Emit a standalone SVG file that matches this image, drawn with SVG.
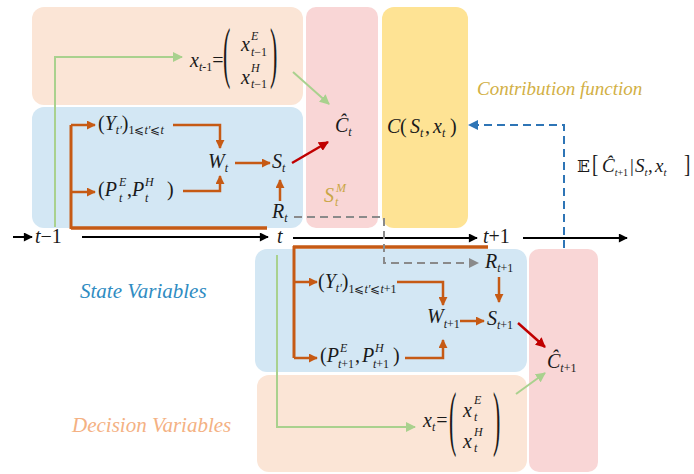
<svg xmlns="http://www.w3.org/2000/svg" width="694" height="474" viewBox="0 0 694 474">
<defs>
<marker id="ao" viewBox="0 0 10 10" refX="9" refY="5" markerWidth="9" markerHeight="9" markerUnits="userSpaceOnUse" orient="auto"><path d="M0,0 L10,5 L0,10 z" fill="#c65a14"/></marker>
<marker id="ak" viewBox="0 0 10 10" refX="9" refY="5" markerWidth="10" markerHeight="9" markerUnits="userSpaceOnUse" orient="auto"><path d="M0,0 L10,5 L0,10 z" fill="#000"/></marker>
<marker id="ag" viewBox="0 0 10 10" refX="9" refY="5" markerWidth="10" markerHeight="10" markerUnits="userSpaceOnUse" orient="auto"><path d="M0,0 L10,5 L0,10 z" fill="#a9d18e"/></marker>
<marker id="ar" viewBox="0 0 10 10" refX="9" refY="5" markerWidth="10" markerHeight="10" markerUnits="userSpaceOnUse" orient="auto"><path d="M0,0 L10,5 L0,10 z" fill="#c00000"/></marker>
<marker id="agy" viewBox="0 0 10 10" refX="9" refY="5" markerWidth="10" markerHeight="10" markerUnits="userSpaceOnUse" orient="auto"><path d="M0,0 L10,5 L0,10 z" fill="#8a8a8a"/></marker>
<marker id="abl" viewBox="0 0 10 10" refX="9" refY="5" markerWidth="10" markerHeight="10" markerUnits="userSpaceOnUse" orient="auto"><path d="M0,0 L10,5 L0,10 z" fill="#2e75b6"/></marker>
</defs>
<rect width="694" height="474" fill="#fff"/>
<g id="panels">
<rect id="top-decision-panel" x="32" y="7" width="271" height="98" rx="12" fill="#fbe5d6"/>
<rect id="top-state-panel" x="32" y="107" width="271" height="121" rx="12" fill="#d3e7f4"/>
<rect id="ct-panel" x="306" y="7" width="72" height="221" rx="10" fill="#f9d6d6"/>
<rect id="contribution-panel" x="382" y="7" width="86" height="221" rx="12" fill="#fee394"/>
<rect id="bottom-state-panel" x="255" y="249" width="272" height="123" rx="12" fill="#d3e7f4"/>
<rect id="bottom-decision-panel" x="257" y="375" width="270" height="97" rx="12" fill="#fbe5d6"/>
<rect id="ct1-panel" x="529" y="249" width="69" height="223" rx="10" fill="#f9d6d6"/>
</g>
<g id="connectors" fill="none">
<g stroke="#000" stroke-width="2" marker-end="url(#ak)">
<path d="M13,237 H32"/>
<path d="M82,237 H268"/>
<path d="M293,238 H477"/>
<path d="M523,238 H627"/>
</g>
<g stroke="#c65a14">
<path stroke-width="3.5" d="M71,228 H267"/>
<path stroke-width="3" d="M71,229 V125"/>
<path stroke-width="3.5" d="M293,247 H488"/>
<path stroke-width="3" d="M294,246 V358"/>
</g>
<g stroke="#c65a14" stroke-width="2.5" marker-end="url(#ao)">
<path d="M71,125 H95"/>
<path d="M71,192 H95"/>
<path d="M173,125 H220 V148"/>
<path d="M183,191 H220 V176"/>
<path d="M235,163 H270"/>
<path d="M280,201 V180"/>
<path d="M294,282 H317"/>
<path d="M294,358 H317"/>
<path d="M397,282 H443 V305"/>
<path d="M405,358 H443 V340"/>
<path d="M460,321 H484"/>
<path d="M499,277 V302"/>
</g>
<g stroke="#c00000" stroke-width="2.5" marker-end="url(#ar)">
<path d="M292,163 L328,142"/>
<path d="M518,323 L545,347"/>
</g>
<g stroke="#a9d18e" stroke-width="2" marker-end="url(#ag)">
<path d="M55,227 V57 H182"/>
<path d="M293,72 L329,104"/>
<path d="M277,255 V427 H415"/>
<path d="M516,394 L545,373"/>
</g>
<path stroke="#8a8a8a" stroke-width="2" stroke-dasharray="8 5" marker-end="url(#agy)" d="M294,217 H384 V263 H478"/>
<path stroke="#2e75b6" stroke-width="2" stroke-dasharray="8 5" marker-end="url(#abl)" d="M564,248 V125 H469"/>
</g>
<g id="texts" font-family="Liberation Serif" font-style="italic" font-size="20" fill="#1a1a1a">
<g id="timeline-labels">
<text font-family="Liberation Serif" x="35" y="243">t<tspan font-style="normal">−1</tspan></text>
<text font-family="Liberation Serif" x="277" y="243">t</text>
<text font-family="Liberation Serif" x="483" y="243">t<tspan font-style="normal">+1</tspan></text>
</g>
<g id="node-x-tm1">
<text font-family="Liberation Serif" x="190" y="67">x<tspan font-size="12" dy="4">t</tspan><tspan font-size="12" font-style="normal">-1</tspan><tspan font-style="normal" dy="-4">=</tspan></text>
<text font-family="Liberation Serif" font-style="normal" font-size="22" transform="translate(223,75) scale(1,3.1)">(</text>
<text font-family="Liberation Serif" font-style="normal" font-size="22" transform="translate(270,75) scale(1,3.1)">)</text>
<text font-family="Liberation Serif" x="241" y="51">x<tspan font-size="12" x="251" y="40">E</tspan><tspan font-size="12" x="251" y="56">t</tspan><tspan font-size="12" font-style="normal">−1</tspan></text>
<text font-family="Liberation Serif" x="241" y="84">x<tspan font-size="12" x="251" y="72">H</tspan><tspan font-size="12" x="251" y="88">t</tspan><tspan font-size="12" font-style="normal">−1</tspan></text>
</g>
<g id="node-Y-t">
<text font-family="Liberation Serif" x="98" y="130"><tspan font-style="normal">(</tspan>Y<tspan font-size="12" dy="4">t′</tspan><tspan font-style="normal" dy="-4">)</tspan><tspan font-size="12" font-style="normal" dy="4">1⩽</tspan><tspan font-size="12">t′</tspan><tspan font-size="12" font-style="normal">⩽</tspan><tspan font-size="12">t</tspan></text>
</g>
<g id="node-P-t">
<text font-family="Liberation Serif" x="98" y="196"><tspan font-style="normal">(</tspan>P<tspan font-size="12" x="119" y="186">E</tspan><tspan font-size="12" x="119" y="202">t</tspan><tspan font-style="normal" x="127" y="196">,</tspan><tspan x="132">P</tspan><tspan font-size="12" x="145" y="186">H</tspan><tspan font-size="12" x="145" y="202">t</tspan><tspan font-style="normal" x="167" y="196">)</tspan></text>
</g>
<g id="node-W-t"><text font-family="Liberation Serif" x="208" y="168">W<tspan font-size="12" dy="4">t</tspan></text></g>
<g id="node-S-t"><text font-family="Liberation Serif" x="272" y="168">S<tspan font-size="12" dy="4">t</tspan></text></g>
<g id="node-R-t"><text font-family="Liberation Serif" x="272" y="218">R<tspan font-size="12" dy="4">t</tspan></text></g>
<g id="node-C-t"><text font-family="Liberation Serif" x="335" y="132">Ĉ<tspan font-size="12" dy="4">t</tspan></text></g>
<g id="node-S-t-M"><text font-family="Liberation Serif" fill="#c9a646" x="324" y="202">S<tspan font-size="12" x="336" y="192">M</tspan><tspan font-size="12" x="335" y="206">t</tspan></text></g>
<g id="node-contribution">
<text font-family="Liberation Serif" x="387" y="133">C<tspan font-style="normal" x="400">(</tspan><tspan x="410">S</tspan><tspan font-size="12" x="420" y="137">t</tspan><tspan font-style="normal" x="425" y="133">,</tspan><tspan x="433">x</tspan><tspan font-size="12" x="442" y="137">t</tspan><tspan font-style="normal" x="450" y="133">)</tspan></text>
<text font-family="Liberation Serif" fill="#d2b045" font-size="19" x="477" y="95">Contribution function</text>
</g>
<g id="node-expectation">
<text font-family="DejaVu Serif" font-style="normal" font-size="17" x="577" y="172">𝔼</text>
<text font-family="Liberation Serif" font-style="normal" font-size="19" transform="translate(592,172) scale(1,1.3)">[</text>
<text font-family="Liberation Serif" font-size="19" x="602" y="172">Ĉ<tspan font-size="10" dy="4">t</tspan><tspan font-size="10" font-style="normal">+1</tspan><tspan font-style="normal" dy="-4" x="630">|</tspan><tspan x="635">S</tspan><tspan font-size="11" dy="4">t</tspan><tspan font-style="normal" dy="-4" x="648">,</tspan><tspan x="655">x</tspan><tspan font-size="11" dy="4">t</tspan></text>
<text font-family="Liberation Serif" font-style="normal" font-size="19" transform="translate(684,172) scale(1,1.3)">]</text>
</g>
<g id="node-Y-t1">
<text font-family="Liberation Serif" x="318" y="288"><tspan font-style="normal">(</tspan>Y<tspan font-size="12" dy="4">t′</tspan><tspan font-style="normal" dy="-4">)</tspan><tspan font-size="12" font-style="normal" dy="5">1⩽</tspan><tspan font-size="12">t′</tspan><tspan font-size="12" font-style="normal">⩽</tspan><tspan font-size="12">t</tspan><tspan font-size="12" font-style="normal">+1</tspan></text>
</g>
<g id="node-P-t1">
<text font-family="Liberation Serif" x="320" y="362"><tspan font-style="normal">(</tspan>P<tspan font-size="12" x="340" y="352">E</tspan><tspan font-size="12" x="338" y="368">t</tspan><tspan font-size="12" font-style="normal">+1</tspan><tspan font-style="normal" x="355" y="362">,</tspan><tspan x="362">P</tspan><tspan font-size="12" x="375" y="352">H</tspan><tspan font-size="12" x="373" y="368">t</tspan><tspan font-size="12" font-style="normal">+1</tspan><tspan font-style="normal" x="393" y="362">)</tspan></text>
</g>
<g id="node-W-t1"><text font-family="Liberation Serif" x="427" y="323">W<tspan font-size="12" dy="5">t</tspan><tspan font-size="12" font-style="normal">+1</tspan></text></g>
<g id="node-S-t1"><text font-family="Liberation Serif" x="487" y="325">S<tspan font-size="12" dy="4">t</tspan><tspan font-size="12" font-style="normal">+1</tspan></text></g>
<g id="node-R-t1"><text font-family="Liberation Serif" x="485" y="268">R<tspan font-size="12" dy="4">t</tspan><tspan font-size="12" font-style="normal">+1</tspan></text></g>
<g id="node-C-t1"><text font-family="Liberation Serif" x="547" y="368">Ĉ<tspan font-size="12" dy="4">t</tspan><tspan font-size="12" font-style="normal">+1</tspan></text></g>
<g id="node-x-t">
<text font-family="Liberation Serif" x="423" y="427">x<tspan font-size="12" dy="4">t</tspan><tspan font-style="normal" dy="-4" dx="1">=</tspan></text>
<text font-family="Liberation Serif" font-style="normal" font-size="22" transform="translate(449,442) scale(1,3.3)">(</text>
<text font-family="Liberation Serif" font-style="normal" font-size="22" transform="translate(493,442) scale(1,3.3)">)</text>
<text font-family="Liberation Serif" x="463" y="417">x<tspan font-size="12" x="474" y="404">E</tspan><tspan font-size="12" x="474" y="421">t</tspan></text>
<text font-family="Liberation Serif" x="463" y="448">x<tspan font-size="12" x="474" y="436">H</tspan><tspan font-size="12" x="474" y="452">t</tspan></text>
</g>
<g id="section-labels">
<text font-family="Liberation Serif" fill="#2f8cc2" font-size="21" x="80" y="298">State Variables</text>
<text font-family="Liberation Serif" fill="#f4b183" font-size="21" x="72" y="432">Decision Variables</text>
</g>
</g>
</svg>
